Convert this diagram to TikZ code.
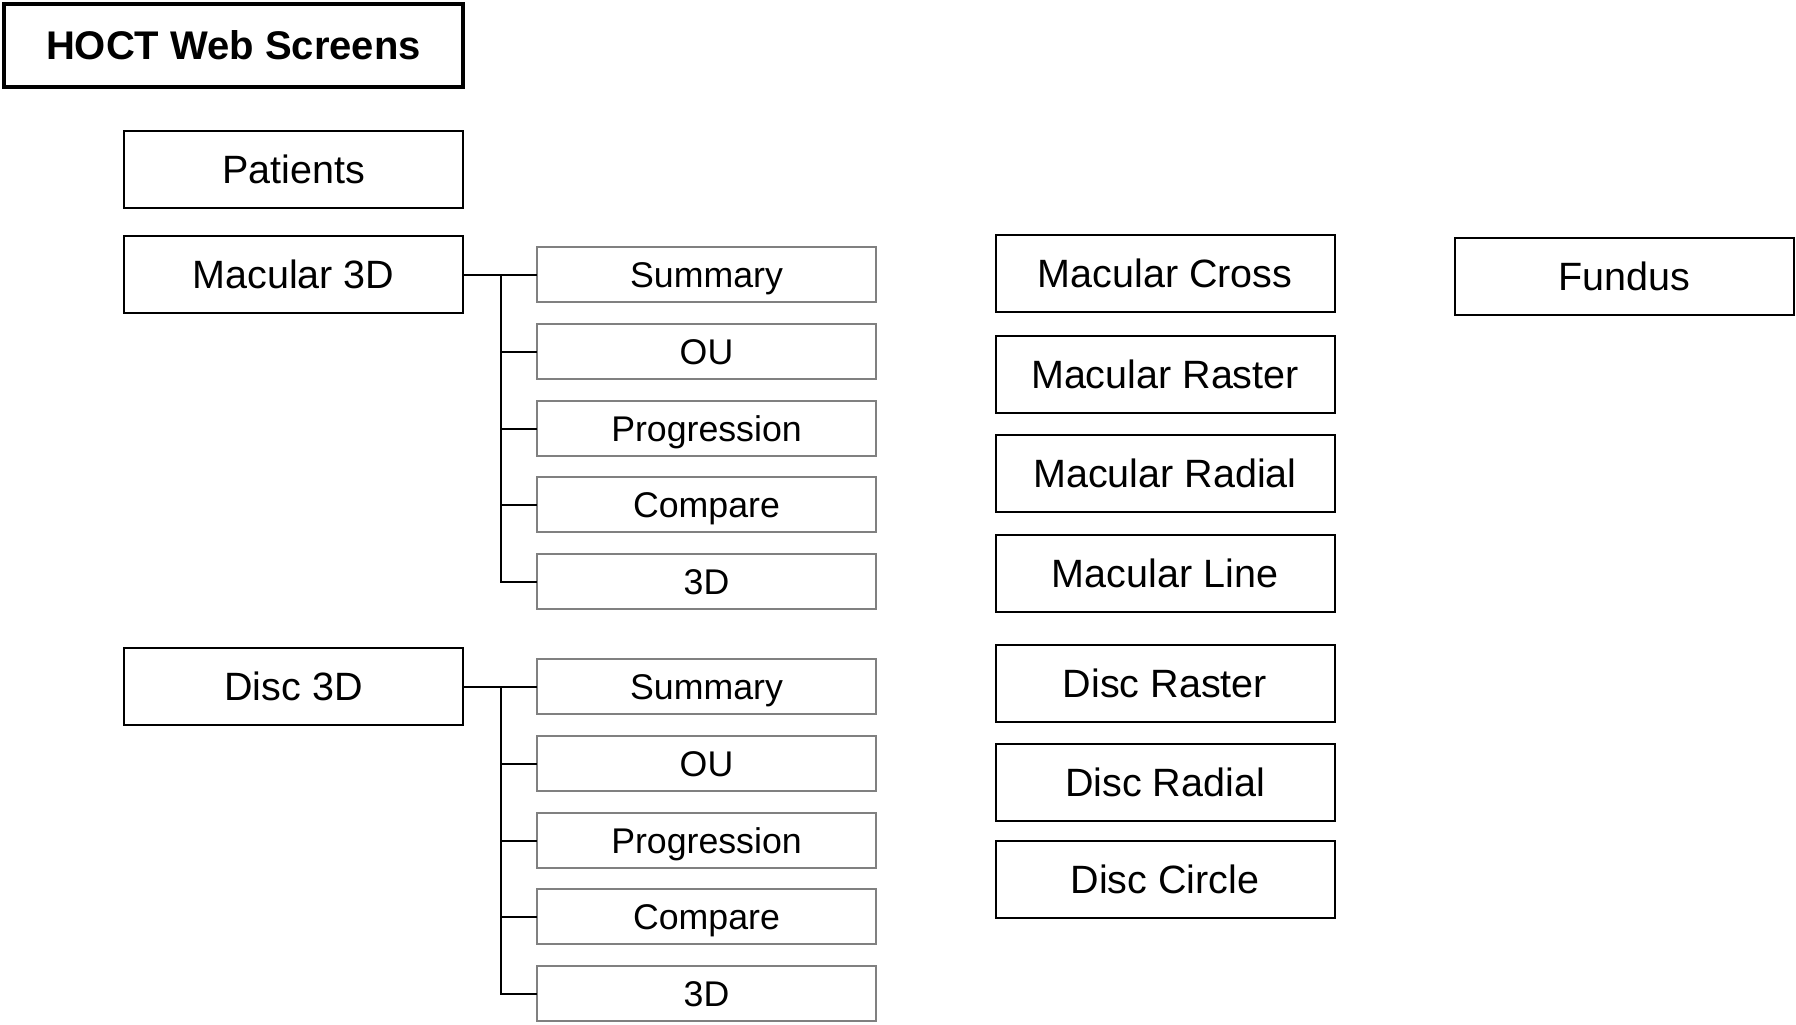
\documentclass[tikz,border=0pt]{standalone}
\usepackage{fontspec}
\setmainfont{Liberation Sans}
\begin{document}
\begin{tikzpicture}[x=0.5pt,y=-0.5pt,
  every node/.style={inner sep=0pt, outer sep=0pt},
  titlebox/.style={draw=black, line width=2pt, minimum width=229.5pt, minimum height=41.5pt, text height=14.2pt, text depth=0pt, font=\fontsize{20}{24}\selectfont\bfseries},
  mainbox/.style={draw=black, line width=1pt, minimum width=169.5pt, minimum height=38.5pt, text height=14.2pt, text depth=0pt, font=\fontsize{19.75}{23}\selectfont},
  subbox/.style={draw=black!50, line width=1.2pt, minimum width=169.5pt, minimum height=27.5pt, text height=12.6pt, text depth=0pt, font=\fontsize{17.85}{21}\selectfont},
  conn/.style={draw=black, line width=1pt}]
\useasboundingbox (0,0) rectangle (1796,1024);
\node[titlebox] (title) at (233.5,45.5) {HOCT Web Screens};
\node[mainbox] (pat) at (293.5,169.5) {Patients};
\node[mainbox] (m3d) at (293.5,274.5) {Macular 3D};
\node[mainbox] (d3d) at (293.5,686.5) {Disc 3D};
% macular children
\node[subbox] (ms) at (706.5,274.5) {Summary};
\node[subbox] (mo) at (706.5,351.5) {OU};
\node[subbox] (mp) at (706.5,428.5) {Progression};
\node[subbox] (mc) at (706.5,504.5) {Compare};
\node[subbox] (mt) at (706.5,581.5) {3D};
% disc children
\node[subbox] (ds) at (706.5,686.5) {Summary};
\node[subbox] (do) at (706.5,763.5) {OU};
\node[subbox] (dp) at (706.5,840.5) {Progression};
\node[subbox] (dc) at (706.5,916.5) {Compare};
\node[subbox] (dt) at (706.5,993.5) {3D};
% right column
\node[mainbox] (mcross) at (1165,273.5) {Macular Cross};
\node[mainbox] (mraster) at (1165,374) {Macular Raster};
\node[mainbox] (mradial) at (1165,473.5) {Macular Radial};
\node[mainbox] (mline) at (1165,573.5) {Macular Line};
\node[mainbox] (draster) at (1165,683) {Disc Raster};
\node[mainbox] (dradial) at (1165,782.5) {Disc Radial};
\node[mainbox] (dcircle) at (1165,879) {Disc Circle};
\node[mainbox] (fundus) at (1624.5,276.5) {Fundus};
% connectors
\coordinate (mj) at (501,274.5);
\coordinate (dj) at (501,686.5);
\draw[conn] (m3d.east) -- (mj) -- (ms.west);
\foreach \c in {mo,mp,mc,mt} \draw[conn] (mj) |- (\c.west);
\draw[conn] (d3d.east) -- (dj) -- (ds.west);
\foreach \c in {do,dp,dc,dt} \draw[conn] (dj) |- (\c.west);
\end{tikzpicture}
\end{document}
